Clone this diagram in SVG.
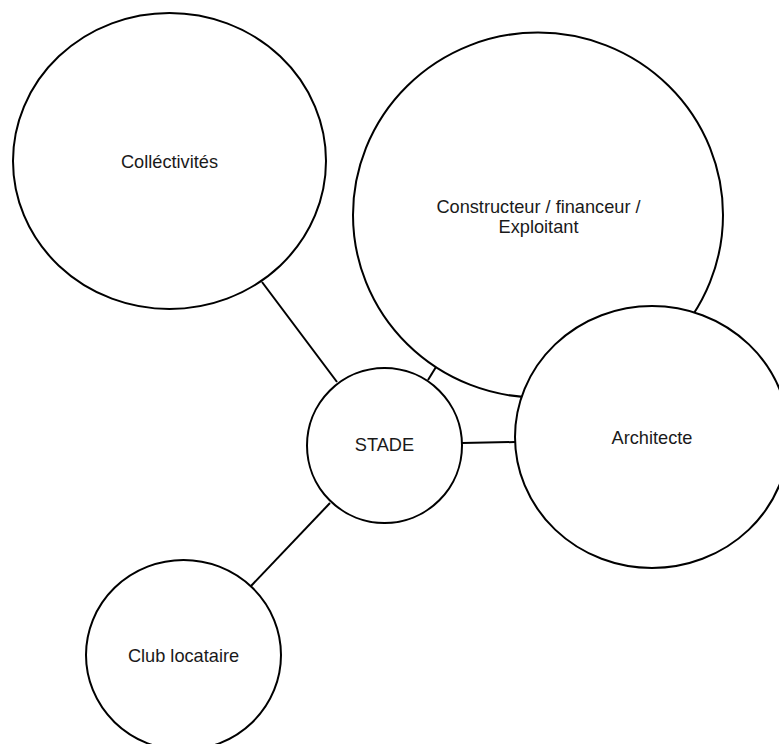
<svg xmlns="http://www.w3.org/2000/svg" width="779" height="744" viewBox="0 0 779 744">
<style>
.n{fill:#fff;stroke:#000;stroke-width:2}
.c{stroke:#000;stroke-width:2;fill:none}
text{font-family:"Liberation Sans",Arial,sans-serif;font-size:18.2px;fill:#1a1a1a;text-anchor:middle}
</style>
<rect width="779" height="744" fill="#fff"/>
<g id="connectors">
<line class="c" x1="262" y1="282" x2="337" y2="382"/>
<line class="c" x1="436" y1="367" x2="428" y2="380"/>
<line class="c" x1="462" y1="443" x2="515" y2="442"/>
<line class="c" x1="330" y1="503" x2="251" y2="586"/>
</g>
<g id="collectivites">
<ellipse class="n" cx="169.5" cy="161" rx="156.5" ry="148"/>
<text x="169.5" y="167.5">Colléctivités</text>
</g>
<g id="constructeur">
<ellipse class="n" cx="538" cy="215" rx="185" ry="182.5"/>
<text x="538.5" y="213">Constructeur / financeur /</text>
<text x="538.5" y="233">Exploitant</text>
</g>
<g id="architecte">
<ellipse class="n" cx="652" cy="437" rx="137" ry="131"/>
<text x="652" y="443.5">Architecte</text>
</g>
<g id="stade">
<ellipse class="n" cx="384.5" cy="445.5" rx="77.5" ry="77.5"/>
<text x="384.5" y="450.5">STADE</text>
</g>
<g id="club">
<ellipse class="n" cx="183.5" cy="655" rx="97.5" ry="95"/>
<text x="183.5" y="661.5">Club locataire</text>
</g>
</svg>
